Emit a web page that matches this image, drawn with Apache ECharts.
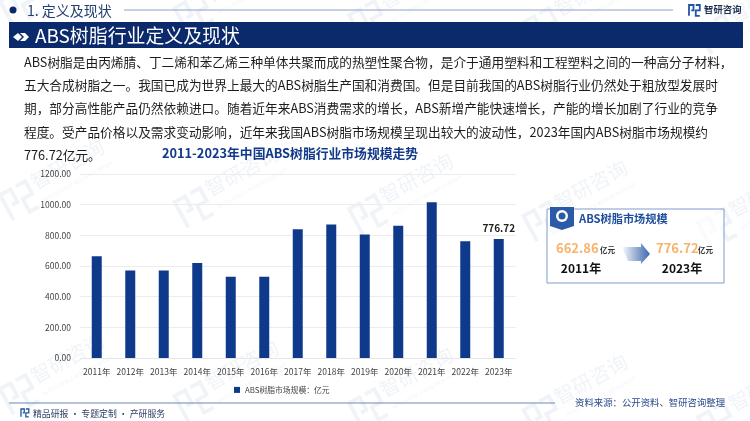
<!DOCTYPE html>
<html>
<head>
<meta charset="utf-8">
<title>ABS树脂行业定义及现状</title>
<script src="https://cdn.jsdelivr.net/npm/echarts@6/dist/echarts.min.js"></script>
<style>
html,body{margin:0;padding:0;background:#fff;}
#main{width:750px;height:421px;}
</style>
</head>
<body>
<div id="main"></div>
<script>
var years = ['2011年','2012年','2013年','2014年','2015年','2016年','2017年','2018年','2019年','2020年','2021年','2022年','2023年'];
var marketSize = [662.86,570,570,620,530,530,840,870,805,862,1015,762,776.72];
var seriesName = 'ABS树脂市场规模：亿元';
var chartTitle = '2011-2023年中国ABS树脂行业市场规模走势';
var bodyLines = [
  'ABS树脂是由丙烯腈、丁二烯和苯乙烯三种单体共聚而成的热塑性聚合物，是介于通用塑料和工程塑料之间的一种高分子材料，',
  '五大合成树脂之一。我国已成为世界上最大的ABS树脂生产国和消费国。但是目前我国的ABS树脂行业仍然处于粗放型发展时',
  '期，部分高性能产品仍然依赖进口。随着近年来ABS消费需求的增长，ABS新增产能快速增长，产能的增长加剧了行业的竞争',
  '程度。受产品价格以及需求变动影响，近年来我国ABS树脂市场规模呈现出较大的波动性，2023年国内ABS树脂市场规模约',
  '776.72亿元。'
];
var FONT = '"Noto Sans CJK SC","Noto Sans",sans-serif';
var NAVY = '#0b2a6b';

function txt(x, y, s, size, color, weight, align){
  return {type:'text', x:x, y:y, z:5, style:{text:s, fontFamily:FONT, fontSize:size, fill:color,
    fontWeight:weight||'normal', textAlign:align||'left', textVerticalAlign:'middle'}};
}
function logo(x, y, s, color, z, lw){
  // 智研咨询的小图标
  return {type:'group', x:x, y:y, scaleX:s, scaleY:s, z:z, children:[
    {type:'polyline', z:z, shape:{points:[[0,12],[0,0],[5,0],[5,6],[2.5,6]]}, style:{stroke:color, fill:null, lineWidth:lw||2}},
    {type:'polyline', z:z, shape:{points:[[7.5,0],[12,0],[12,6],[7.5,6],[7.5,12],[12,12]]}, style:{stroke:color, fill:null, lineWidth:lw||2}}
  ]};
}

// 水印
var graphics = [];
(function(){
  var c = '#f0f4f8';
  for(var r = 0; r < 4; r++){
    for(var i = 0; i < 5; i++){
      var x = i*174.5;
      var y = 1 + r*194 + i*7;
      var m = logo(x, y, 2.4, c, 0, 1.6);
      m.rotation = 0.5;
      graphics.push(m);
      graphics.push({type:'text', x:x+37, y:y-3, rotation:0.5, z:0, silent:true,
        style:{text:'智研咨询', fontFamily:FONT, fontSize:20, fill:c, textVerticalAlign:'bottom'}});
      graphics.push({type:'text', x:x+42, y:y+3, rotation:0.5, z:0, silent:true,
        style:{text:'INTELLIGENCE RESEARCH GROUP', fontFamily:FONT, fontSize:5, fill:c}});
    }
  }
})();

// 页眉
graphics.push({type:'circle', z:5, shape:{cx:13, cy:10, r:3.5}, style:{fill:NAVY}});
graphics.push(txt(27, 10.5, '1. 定义及现状', 14, '#24406f'));
graphics.push({type:'line', z:5, shape:{x1:124, y1:10, x2:673, y2:10}, style:{stroke:'#8ea2c8', lineWidth:1}});
graphics.push(logo(689, 5, 0.9, '#1f55a5', 5));
graphics.push(txt(704, 9.5, '智研咨询', 9.4, '#1f2f4f', 'bold'));
graphics.push({type:'rect', z:5, shape:{x:9, y:22, width:734, height:26}, style:{fill:NAVY}});
graphics.push({type:'polygon', z:6, shape:{points:[[13,37],[18,33],[22,37],[18,41]]}, style:{fill:'#fff'}});
graphics.push({type:'polygon', z:6, shape:{points:[[20,33],[25,33],[29,37],[25,41],[20,41],[24,37]]}, style:{fill:'#fff'}});
graphics.push(txt(35, 35.5, 'ABS树脂行业定义及现状', 18.9, '#fff'));

// 正文
bodyLines.forEach(function(s, i){
  graphics.push(txt(24, 62 + i*23.3, s, 12.7, '#1c1c1c'));
});

// 右侧卡片
graphics.push({type:'rect', z:5, shape:{x:547, y:209, width:177, height:74}, style:{fill:'rgba(255,255,255,0.6)', stroke:'#7f9dcb', lineWidth:1}});
graphics.push({type:'polygon', z:6, shape:{points:[[550,207],[574,207],[574,226],[562,230],[550,226]]}, style:{fill:'#2b5ba8'}});
graphics.push({type:'circle', z:7, shape:{cx:562, cy:216, r:6}, style:{fill:'#fff'}});
graphics.push({type:'circle', z:7, shape:{cx:562, cy:216, r:3.5}, style:{fill:'#2b5ba8'}});
graphics.push(txt(579, 219, 'ABS树脂市场规模', 11.2, '#1f4f9c', 'bold'));
graphics.push(txt(556, 248, '662.86', 13, '#f7b36b', 'bold'));
graphics.push(txt(600, 250, '亿元', 7.5, '#333', 'bold'));
graphics.push(txt(581, 268, '2011年', 12, '#111', 'bold', 'center'));
graphics.push({type:'polygon', z:6,
  shape:{points:[[622,247],[641,247],[641,243],[650,254],[641,264],[641,261],[628,261]]},
  style:{fill:{type:'linear', x:0, y:0, x2:1, y2:0, colorStops:[{offset:0, color:'rgba(43,91,168,0.02)'},{offset:1, color:'#3f69ac'}]}}});
graphics.push(txt(656, 248, '776.72', 13, '#f7b36b', 'bold'));
graphics.push(txt(698, 250, '亿元', 7.5, '#333', 'bold'));
graphics.push(txt(682, 268, '2023年', 12, '#111', 'bold', 'center'));

// 页脚
graphics.push({type:'line', z:5, shape:{x1:9, y1:403, x2:555, y2:403}, style:{stroke:'#6f87b5', lineWidth:1}});
graphics.push(logo(21, 409, 0.65, '#1f55a5', 5));
graphics.push(txt(33, 414, '精品研报 · 专题定制 · 产研服务', 8.9, '#2d3f66'));
graphics.push(txt(575, 402, '资料来源：公开资料、智研咨询整理', 9.4, '#2a4a8a'));

var option = {
  animation: false,
  backgroundColor: '#fff',
  title: {
    text: chartTitle, left: 285, top: 142, textAlign: 'center',
    textStyle: {fontFamily: FONT, fontSize: 12.8, fontWeight: 'bold', color: '#12398a'}
  },
  legend: {
    data: [seriesName], left: 229, top: 381, itemWidth: 6, itemHeight: 6, itemGap: 2,
    icon: 'rect',
    textStyle: {fontFamily: FONT, fontSize: 7.8, color: '#444'}
  },
  grid: {left: 80, top: 174, width: 435.5, height: 184},
  xAxis: {
    type: 'category', data: years,
    axisLine: {lineStyle: {color: '#e6e6e6'}},
    axisTick: {show: false},
    axisLabel: {fontFamily: FONT, fontSize: 8.5, color: '#444', margin: 10, interval: 0}
  },
  yAxis: {
    type: 'value', min: 0, max: 1200, interval: 200,
    axisLine: {show: false}, axisTick: {show: false},
    splitLine: {lineStyle: {color: '#ececec'}},
    axisLabel: {fontFamily: FONT, fontSize: 8.5, color: '#444', margin: 9,
      formatter: function(v){ return v.toFixed(2); }}
  },
  series: [{
    name: seriesName, type: 'bar', data: marketSize, barWidth: 10,
    itemStyle: {color: '#0f3a8c'},
    label: {
      show: true, position: 'top', distance: 6,
      fontFamily: FONT, fontSize: 10, fontWeight: 'bold', color: '#222',
      formatter: function(p){ return p.dataIndex === marketSize.length - 1 ? p.value.toFixed(2) : ''; }
    }
  }],
  graphic: graphics
};

window.onload = function(){
  var myChart = echarts.init(document.getElementById('main'));
  myChart.setOption(option);
};
</script>
</body>
</html>
